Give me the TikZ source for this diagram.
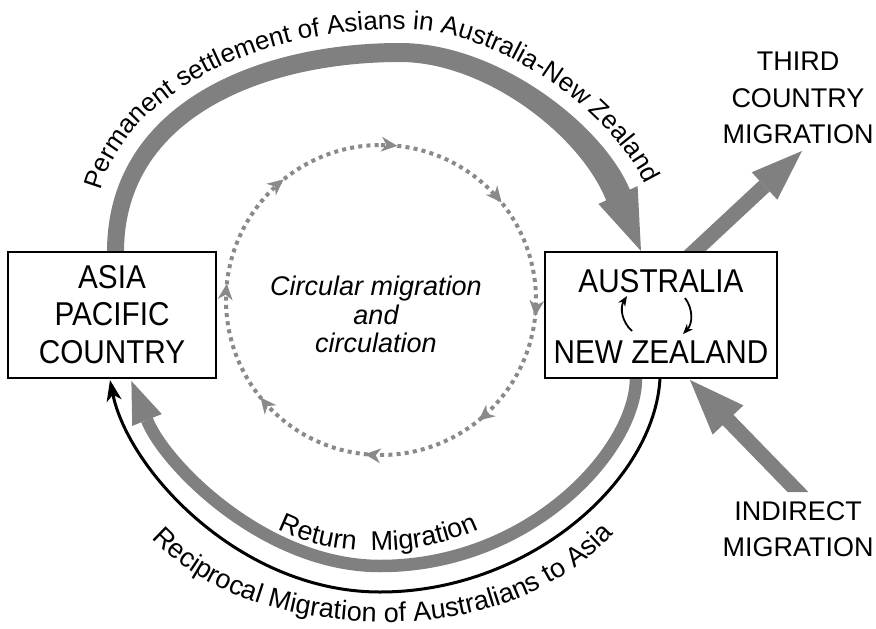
\documentclass[tikz,border=0pt]{standalone}
\usepackage{fontspec}
\setmainfont{Liberation Sans}
\newfontfamily\boxfont[FakeStretch=0.9]{Liberation Sans}
\usetikzlibrary{arrows.meta,decorations.markings,decorations.text,backgrounds}
\definecolor{mg}{RGB}{128,128,128}
\definecolor{dg}{RGB}{138,138,138}
\newcommand{\pfa}{\fontsize{26}{26}\selectfont}
\newcommand{\pfb}{\fontsize{27}{27}\selectfont}
\begin{document}
\begin{tikzpicture}[x=1pt,y=1pt,
  box/.style={draw=black, line width=2.2pt, fill=white, inner sep=0pt},
  boxtext/.style={font=\boxfont\fontsize{33}{33}\selectfont, anchor=base, inner sep=0pt},
  sidetext/.style={font=\fontsize{27}{27}\selectfont, anchor=base, inner sep=0pt},
  circtext/.style={font=\fontsize{27}{27}\selectfont\itshape, anchor=base, inner sep=0pt},
  dotcircle/.style={draw=dg, line width=4pt, dash pattern=on 4pt off 4.2pt},
  dothead/.style={decoration={markings, mark=between positions 0.0167 and 0.99 step 0.125 with {\arrow[dg]{Stealth[length=16pt,width=15pt,inset=5pt,line width=0pt]}}}},
  smallarrow/.style={line width=1.8pt, -{Stealth[length=10pt,width=8pt,inset=3pt]}},
]
\useasboundingbox (0,0) rectangle (876,-629);

% boxes
\node[box, minimum width=208pt, minimum height=126pt] (asia) at (112,-315) {};
\node[box, minimum width=232pt, minimum height=126pt] (anz) at (661,-315) {};

% named points
\coordinate (cc) at (381,-300);
\coordinate (ctop) at (381,-145);
\coordinate (thirdTail) at (683,-262);
\coordinate (thirdBase) at (764.5,-186);
\coordinate (retStart) at (636,-368);
\coordinate (recStart) at (660,-368);
\coordinate (recEnd) at (110,-380);

\begin{scope}[on background layer]
  % permanent settlement band with arrow head
  \fill[mg] (107,-262) -- (107,-252) .. controls (107,-105) and (255,-43) .. (400,-43)
     .. controls (498,-43) and (603,-125) .. (629.8,-189.6) -- (637.6,-186.1) -- (641,-251)
     -- (598.4,-203.9) -- (606.2,-200.4) .. controls (580,-135) and (485,-62) .. (400,-62)
     .. controls (268,-62) and (124,-115) .. (124,-252) -- (124,-262) -- cycle;
  % third country migration
  \draw[mg, line width=15pt] (thirdTail) -- (thirdBase);
  \fill[mg] (751.7,-172.3) -- (802,-151) -- (777.3,-199.7) -- cycle;
  % indirect migration
  \fill[mg] (787.6,-492) -- (722.6,-425.2) -- (712.6,-434.6) -- (690,-380) -- (743.4,-405.4) -- (733.4,-414.8) -- (808.4,-492) -- cycle;
  % return migration
  \draw[mg, line width=12.5pt] (retStart) -- (636,-378) .. controls (636,-450) and (530,-566) .. (380,-566)
     .. controls (265,-566) and (165,-465) .. (147,-420);
  \fill[mg] (161.8,-414.1) -- (131.4,-381) -- (132.2,-425.9) -- cycle;
  % reciprocal migration
  \draw[line width=3pt, -{Stealth[length=21pt,width=15pt,inset=6pt]}] (recStart) -- (660,-378)
     .. controls (655,-480) and (530,-592) .. (380,-592) .. controls (240,-592) and (128,-470) .. (recEnd);
\end{scope}

% circular migration dotted circle
\draw[dotcircle, dothead, postaction={decorate}] (ctop) arc[start angle=90, end angle=-270, radius=155pt];

% small arrows inside the box
\draw[smallarrow] (632,-331) to[bend left=40] (627,-296);
\draw[smallarrow] (685,-298) to[bend left=40] (683,-334);

% box texts
\node[boxtext] (t1) at (112,-288) {ASIA};
\node[boxtext] (t2) at (112,-325.5) {PACIFIC};
\node[boxtext] (t3) at (112,-363) {COUNTRY};
\node[boxtext] (t4) at (661,-292) {AUSTRALIA};
\node[boxtext] (t5) at (661,-363) {NEW ZEALAND};

% side texts
\node[sidetext] (s1) at (798,-70) {THIRD};
\node[sidetext] (s2) at (798,-107) {COUNTRY};
\node[sidetext] (s3) at (798,-143) {MIGRATION};
\node[sidetext] (s4) at (798,-520) {INDIRECT};
\node[sidetext] (s5) at (798,-556) {MIGRATION};

% centre text
\node[circtext] (c1) at (376,-295) {Circular migration};
\node[circtext] (c2) at (376,-324) {and};
\node[circtext] (c3) at (376,-352) {circulation};

% labels along paths
\path[decorate, decoration={text along path, text align=center,
   text={|\pfa|Permanent settlement of Asians in Australia-New Zealand}}]
   (99,-197) .. controls (120,-100) and (250,-29) .. (400,-29) .. controls (505,-29) and (618,-118) .. (648,-190);
\path[decorate, decoration={text along path, text align=center,
   text={|\pfb|Return {\ }Migration}}]
   (262,-520) .. controls (320,-561) and (430,-561) .. (495,-520);
\path[decorate, decoration={text along path, text align=center,
   text={|\pfb|Reciprocal Migration of Australians to Asia}}]
   (140,-525) .. controls (200,-600) and (300,-622) .. (390,-622) .. controls (480,-622) and (570,-590) .. (625,-520);
\end{tikzpicture}
\end{document}
